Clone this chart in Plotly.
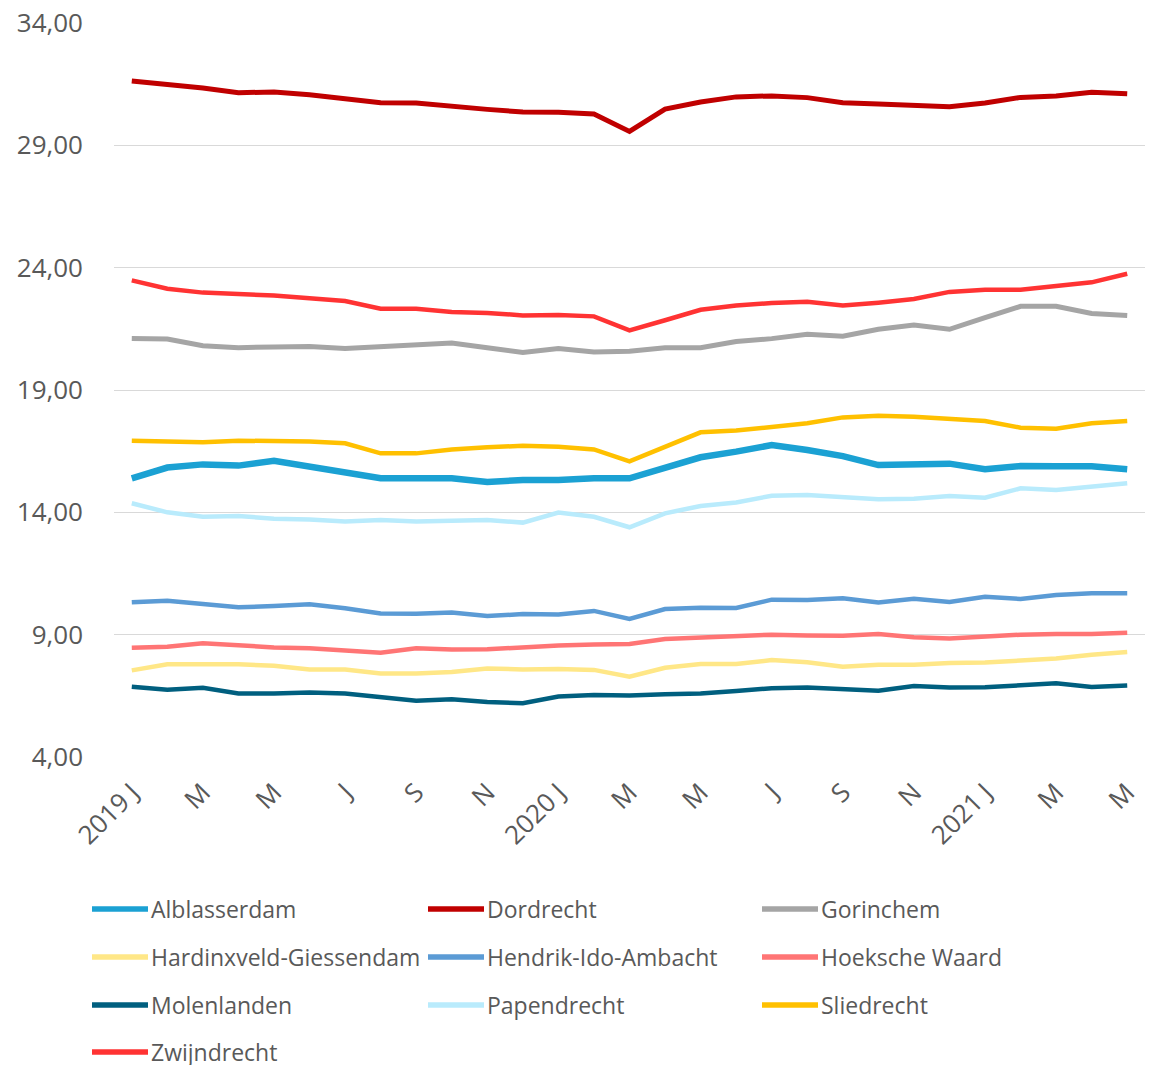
import plotly.graph_objects as go

# Monthly periods, January 2019 through May 2021
months = [f"{y}-{m:02d}" for y in (2019, 2020, 2021) for m in range(1, 13)][:29]

tick_positions = months[::2]
tick_labels = ["2019 J", "M", "M", "J", "S", "N",
               "2020 J", "M", "M", "J", "S", "N",
               "2021 J", "M", "M"]

alblasserdam = [15.39, 15.83, 15.96, 15.91, 16.11, 15.87, 15.59, 15.39, 15.39, 15.39,
                15.24, 15.32, 15.32, 15.39, 15.39, 15.80, 16.25, 16.48, 16.75, 16.55,
                16.30, 15.93, 15.93, 15.99, 15.76, 15.89, 15.88, 15.88, 15.76]
dordrecht = [31.63, 31.49, 31.34, 31.15, 31.18, 31.07, 30.92, 30.74, 30.73, 30.58,
             30.47, 30.36, 30.35, 30.28, 29.57, 30.48, 30.77, 30.98, 31.02, 30.95,
             30.74, 30.69, 30.62, 30.58, 30.73, 30.96, 31.02, 31.17, 31.11]
gorinchem = [21.11, 21.08, 20.81, 20.73, 20.76, 20.78, 20.70, 20.77, 20.80, 20.92,
             20.73, 20.53, 20.70, 20.55, 20.58, 20.73, 20.73, 20.98, 21.10, 21.28,
             21.20, 21.48, 21.66, 21.48, 21.96, 22.42, 22.42, 22.13, 22.04]
hardinxveld = [7.54, 7.79, 7.79, 7.79, 7.73, 7.58, 7.58, 7.41, 7.41, 7.47,
               7.62, 7.58, 7.60, 7.56, 7.28, 7.65, 7.80, 7.80, 7.96, 7.87,
               7.69, 7.77, 7.77, 7.84, 7.86, 7.94, 8.03, 8.18, 8.29]
hendrik_ido_ambacht = [10.32, 10.39, 10.25, 10.12, 10.17, 10.24, 10.08, 9.87, 9.86, 9.91,
                       9.76, 9.84, 9.82, 9.97, 9.64, 10.05, 10.10, 10.09, 10.43, 10.42,
                       10.49, 10.32, 10.47, 10.34, 10.55, 10.46, 10.62, 10.69, 10.69]
hoeksche_waard = [8.47, 8.51, 8.65, 8.56, 8.48, 8.44, 8.36, 8.26, 8.44, 8.39,
                  8.40, 8.50, 8.56, 8.60, 8.62, 8.82, 8.88, 8.93, 9.00, 8.97,
                  8.96, 9.03, 8.89, 8.84, 8.92, 9.00, 9.03, 9.03, 9.08]
molenlanden = [6.87, 6.75, 6.83, 6.60, 6.60, 6.64, 6.60, 6.44, 6.30, 6.36,
               6.25, 6.20, 6.47, 6.53, 6.51, 6.56, 6.60, 6.70, 6.81, 6.84,
               6.78, 6.71, 6.90, 6.84, 6.85, 6.93, 7.01, 6.86, 6.92]
papendrecht = [14.37, 14.00, 13.82, 13.85, 13.74, 13.71, 13.63, 13.69, 13.63, 13.66,
               13.69, 13.58, 13.99, 13.82, 13.39, 13.96, 14.26, 14.40, 14.68, 14.71,
               14.60, 14.53, 14.56, 14.67, 14.60, 14.98, 14.91, 15.05, 15.19]
sliedrecht = [16.93, 16.90, 16.86, 16.93, 16.93, 16.89, 16.82, 16.41, 16.41, 16.57,
              16.66, 16.72, 16.68, 16.57, 16.08, 16.68, 17.27, 17.34, 17.50, 17.64,
              17.88, 17.95, 17.91, 17.84, 17.73, 17.46, 17.42, 17.64, 17.73]
zwijndrecht = [23.48, 23.14, 22.98, 22.92, 22.86, 22.75, 22.64, 22.32, 22.32, 22.19,
               22.15, 22.05, 22.07, 22.01, 21.44, 21.85, 22.28, 22.45, 22.56, 22.61,
               22.45, 22.57, 22.72, 23.01, 23.10, 23.10, 23.24, 23.40, 23.75]

series = [
    ("Alblasserdam", alblasserdam, "#1BA1D3", 6.5),
    ("Dordrecht", dordrecht, "#C00000", 5),
    ("Gorinchem", gorinchem, "#A5A5A5", 5),
    ("Hardinxveld-Giessendam", hardinxveld, "#FFE787", 4.5),
    ("Hendrik-Ido-Ambacht", hendrik_ido_ambacht, "#5B9BD5", 4.5),
    ("Hoeksche Waard", hoeksche_waard, "#FF7575", 4.5),
    ("Molenlanden", molenlanden, "#005F7F", 4.5),
    ("Papendrecht", papendrecht, "#B9EBFC", 4.5),
    ("Sliedrecht", sliedrecht, "#FFC000", 4.5),
    ("Zwijndrecht", zwijndrecht, "#FF3333", 4.5),
]

W, H = 1149, 1065
M_L, M_R, M_T, M_B = 114, 4, 23, 308
PW, PH = W - M_L - M_R, H - M_T - M_B

fig = go.Figure()
for name, values, color, width in series:
    fig.add_trace(go.Scatter(
        x=months, y=values, name=name, mode="lines",
        line=dict(color=color, width=width, shape="linear"),
        showlegend=False,
    ))

# Three-column legend under the plot area
text_color = "#595959"
col_x = [92, 428, 762]
row_y = [909, 957, 1005, 1052]
for k, (name, values, color, width) in enumerate(series):
    px = col_x[k % 3]
    py = row_y[k // 3]
    x0 = (px - M_L) / PW
    x1 = (px + 56 - M_L) / PW
    yp = (M_T + PH - py) / PH
    fig.add_shape(type="line", xref="paper", yref="paper",
                  x0=x0, x1=x1, y0=yp, y1=yp,
                  line=dict(color=color, width=5.5))
    fig.add_annotation(xref="paper", yref="paper",
                       x=(px + 57 - M_L) / PW, y=yp,
                       xanchor="left", yanchor="middle",
                       text=name, showarrow=False,
                       font=dict(size=23, color=text_color, family="Open Sans"))

fig.update_layout(
    width=W, height=H,
    margin=dict(l=M_L, r=M_R, t=M_T, b=M_B),
    paper_bgcolor="white", plot_bgcolor="white",
    font=dict(family="Open Sans", color=text_color),
)
fig.update_xaxes(
    type="category", range=[-0.5, 28.5],
    tickmode="array", tickvals=tick_positions, ticktext=tick_labels,
    tickangle=-45, tickfont=dict(size=26, color=text_color),
    showgrid=False, showline=False, ticks="", zeroline=False,
    ticklabelstandoff=14,
)
fig.update_yaxes(
    range=[4, 34], tickvals=[4, 9, 14, 19, 24, 29, 34],
    ticktext=["4,00", "9,00", "14,00", "19,00", "24,00", "29,00", "34,00"],
    tickfont=dict(size=26, color=text_color),
    showgrid=True, gridcolor="#D9D9D9", gridwidth=1.3,
    zeroline=False, showline=False, ticks="",
    ticklabelstandoff=30,
)

fig.write_html("out.html")
